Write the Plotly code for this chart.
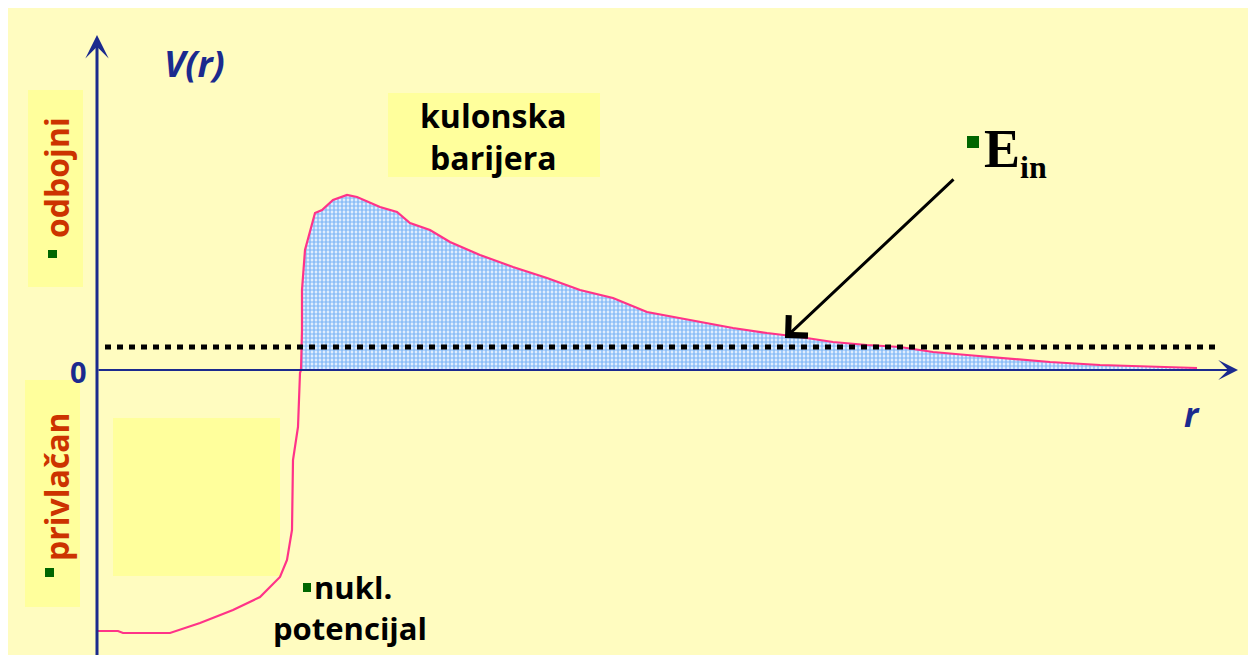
import plotly.graph_objects as go

# ---- data (r in arbitrary units, V in arbitrary units) ----
r_vals = [0.00, 0.21, 0.26, 0.73, 1.03, 1.36, 1.63, 1.83, 1.90, 1.95, 1.96, 2.01, 2.03,
          2.04, 2.05, 2.05, 2.08, 2.13, 2.18, 2.25, 2.36, 2.50, 2.60, 2.83, 3.00, 3.13,
          3.33, 3.53, 3.83, 4.16, 4.50, 4.83, 5.16, 5.50, 5.76, 6.03, 6.36, 6.70, 7.03,
          7.36, 7.70, 8.03, 8.36, 8.70, 9.03, 9.53, 10.03, 10.70, 11.00]
V_vals = [-2.61, -2.61, -2.63, -2.63, -2.53, -2.40, -2.27, -2.07, -1.90, -1.60, -0.90, -0.57, -0.03,
          0.00, 0.40, 0.80, 1.20, 1.40, 1.57, 1.60, 1.70, 1.75, 1.73, 1.63, 1.58, 1.47,
          1.40, 1.28, 1.15, 1.03, 0.92, 0.80, 0.72, 0.58, 0.53, 0.48, 0.42, 0.37, 0.33,
          0.28, 0.25, 0.23, 0.18, 0.15, 0.12, 0.08, 0.05, 0.03, 0.02]
E_in = 0.23
E_line_r = [0.08, 11.18]

# barrier region (V >= 0)
start = next(i for i, v in enumerate(V_vals) if v >= 0 and r_vals[i] > 1.5)
r_bar = r_vals[start:]
V_bar = V_vals[start:]

# ---- layout helpers: page pixel -> data coordinates ----
def dx(px):
    return (px - 97) / 100.0

def dy(py):
    return (370 - py) / 100.0

PANEL = "#FFFCC0"
BOX = "#FFFF9C"
NAVY = "#1B2A8E"
PINK = "#FF3388"
ORANGE = "#CC3300"
GREEN = "#006600"
FONT = "Open Sans"

fig = go.Figure()

fig.add_trace(go.Scatter(
    x=r_bar, y=V_bar, mode="lines", fill="tozeroy",
    line=dict(color="rgba(0,0,0,0)", width=0),
    fillpattern=dict(shape=".", fgcolor="#1E7FF0", bgcolor="#FFFFFF", size=4, solidity=0.7),
    hoverinfo="skip", showlegend=False))

fig.add_trace(go.Scatter(
    x=r_vals, y=V_vals, mode="lines", line=dict(color=PINK, width=2.2),
    hoverinfo="skip", showlegend=False))

fig.add_trace(go.Scatter(
    x=E_line_r, y=[E_in, E_in], mode="lines",
    line=dict(color="black", width=5, dash="6px,6px"),
    hoverinfo="skip", showlegend=False))

shapes = []
def rect(x0, y0, x1, y1, color):
    shapes.append(dict(type="rect", xref="x", yref="y", x0=dx(x0), x1=dx(x1),
                       y0=dy(y0), y1=dy(y1), fillcolor=color, line=dict(width=0), layer="below"))

rect(388, 93, 600, 177, BOX)      # kulonska barijera
rect(28, 90, 83, 287, BOX)        # odbojni
rect(25, 380, 80, 607, BOX)       # privlacan
rect(113, 418, 280, 576, BOX)     # empty box
# green bullets
rect(967, 136, 979, 148, GREEN)
rect(48, 250, 57, 258, GREEN)
rect(45, 568, 54, 577, GREEN)
rect(303, 583, 311, 592, GREEN)

ann = []
# axes arrows
ann.append(dict(x=0, y=dy(35), ax=0, ay=dy(660), xref="x", yref="y", axref="x", ayref="y",
                showarrow=True, arrowhead=3, arrowsize=1.3, arrowwidth=3, arrowcolor=NAVY, text=""))
ann.append(dict(x=dx(1238), y=0, ax=0, ay=0, xref="x", yref="y", axref="x", ayref="y",
                showarrow=True, arrowhead=3, arrowsize=1.5, arrowwidth=2.2, arrowcolor=NAVY, text=""))
# E_in arrow
ann.append(dict(x=dx(785), y=dy(338), ax=dx(955), ay=dy(178), xref="x", yref="y",
                axref="x", ayref="y", showarrow=True, arrowhead=4, arrowsize=1.8,
                arrowwidth=3, arrowcolor="black", text=""))

def label(text, px, py, size, color="black", family=FONT, angle=0, xanchor="center", align="center"):
    ann.append(dict(x=dx(px), y=dy(py), xref="x", yref="y", text=text, showarrow=False,
                    font=dict(family=family, size=size, color=color), textangle=angle,
                    xanchor=xanchor, yanchor="middle", align=align))

label("<b><i>V(r)</i></b>", 194, 63, 36, NAVY)
label("<b>0</b>", 78, 371, 29, NAVY)
label("<b><i>r</i></b>", 1192, 414, 34, NAVY)
label("<b>kulonska<br>barijera</b>", 493, 136, 32)
label("<b>odbojni</b>", 56, 178, 32, ORANGE, angle=-90)
label("<b>privlačan</b>", 56, 487, 32, ORANGE, angle=-90)
label("<b>nukl.</b>", 312, 587, 31, xanchor="left")
label("<b>potencijal</b>", 350, 628, 31)
label("<b>E<sub><span style='font-size:32px'>in</span></sub></b>", 982, 152, 54,
      family="Liberation Serif", xanchor="left")

fig.update_layout(
    width=1256, height=655, margin=dict(l=0, r=0, t=0, b=0),
    paper_bgcolor=PANEL, plot_bgcolor="rgba(0,0,0,0)",
    xaxis=dict(range=[dx(8), dx(8 + 1256)], visible=False, fixedrange=True),
    yaxis=dict(range=[dy(8 + 655), dy(8)], visible=False, fixedrange=True),
    shapes=shapes, annotations=ann, showlegend=False)

fig.write_html("out.html")
